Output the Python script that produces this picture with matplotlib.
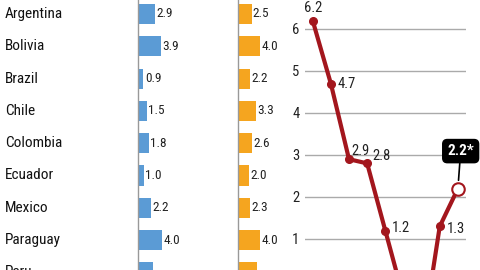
import matplotlib.pyplot as plt
from matplotlib.transforms import blended_transform_factory
import numpy as np

# data
countries = ["Argentina", "Bolivia", "Brazil", "Chile", "Colombia",
             "Ecuador", "Mexico", "Paraguay", "Peru"]
blue_vals = [2.9, 3.9, 0.9, 1.5, 1.8, 1.0, 2.2, 4.0, 2.5]
orange_vals = [2.5, 4.0, 2.2, 3.3, 2.6, 2.0, 2.3, 4.0, 3.5]

years = [2010, 2011, 2012, 2013, 2014, 2015, 2016, 2017, 2018]
growth = [6.2, 4.7, 2.9, 2.8, 1.2, -0.4, -1.5, 1.3, 2.2]

W, H = 480, 270
plt.rcParams["font.family"] = ["Liberation Sans Narrow", "Roboto Condensed",
                               "Open Sans Condensed", "DejaVu Sans"]
plt.rcParams["font.stretch"] = "condensed"

fig = plt.figure(figsize=(4.8, 2.7), dpi=100)
fig.patch.set_facecolor("white")


def px_axes(x0, y0, x1, y1):
    # axes from pixel box (top-left origin)
    return fig.add_axes([x0 / W, (H - y1) / H, (x1 - x0) / W, (y1 - y0) / H])


row0, step = 14.0, 32.3
ylims = ((H - row0) / step, -row0 / step)
pos = np.arange(len(countries))

# blue bars
ax1 = px_axes(138, 0, 228, H)
ax1.barh(pos, blue_vals, height=0.62, color="#5b9bd5")
ax1.set_xlim(0, 90 / 6.0)
ax1.set_ylim(*ylims)
for i, v in enumerate(blue_vals):
    ax1.annotate(f"{v:.1f}", (v, i), xytext=(1, 0), textcoords="offset points",
                 ha="left", va="center", fontsize=9.5, color="#222222")

# country names
tr = blended_transform_factory(fig.transFigure, ax1.transData)
for i, c in enumerate(countries):
    ax1.text(5 / W, i, c, transform=tr, ha="left", va="center",
             fontsize=11, color="#111111")

# orange bars
ax2 = px_axes(237.5, 0, 294, H)
ax2.barh(pos, orange_vals, height=0.62, color="#f5a51f")
ax2.set_xlim(0, 56.5 / 5.6)
ax2.set_ylim(*ylims)
for i, v in enumerate(orange_vals):
    ax2.annotate(f"{v:.1f}", (v, i), xytext=(1, 0), textcoords="offset points",
                 ha="left", va="center", fontsize=9.5, color="#222222")

for ax in (ax1, ax2):
    for s in ["top", "right", "bottom"]:
        ax.spines[s].set_visible(False)
    ax.spines["left"].set_color("#999999")
    ax.spines["left"].set_linewidth(1)
    ax.set_xticks([])
    ax.set_yticks([])
    ax.patch.set_alpha(0)

# line chart (bottom part is cut off in the reference)
ax3 = px_axes(305, 0, 466, 360)
x = np.arange(len(years))
red = "#a3161d"
ax3.plot(x[:-1], growth[:-1], color=red, lw=3, marker="o", ms=5.5, zorder=3)
ax3.plot(x[-2:], growth[-2:], color=red, lw=3, zorder=3)
ax3.plot(x[-1], growth[-1], marker="o", ms=9, mfc="white", mec=red, mew=1.5,
         zorder=4)
ax3.set_xlim((305 - 312.7) / 18.15, (466 - 312.7) / 18.15)
ax3.set_ylim((281 - 360) / 42, 281 / 42)
ax3.set_yticks(range(0, 7))
ax3.set_yticklabels([str(t) for t in range(0, 7)], fontsize=10.5, color="#222222")
ax3.tick_params(axis="y", length=0, pad=4)
ax3.set_xticks([])
ax3.grid(axis="y", color="#aaaaaa", lw=1)
ax3.set_axisbelow(True)
for s in ax3.spines.values():
    s.set_visible(False)
ax3.patch.set_alpha(0)

offsets = {0: (0, 9, "center"), 1: (5, 0, "left"), 2: (2, 6, "left"),
           3: (4, 5, "left"), 4: (5, 2, "left"), 7: (5, -2, "left")}
for i, (dx, dy, ha) in offsets.items():
    ax3.annotate(f"{growth[i]:.1f}", (x[i], growth[i]), xytext=(dx, dy),
                 textcoords="offset points", ha=ha, va="center",
                 fontsize=10.5, color="#222222")

ax3.annotate(f"{growth[-1]:.1f}*", (x[-1], growth[-1]), xytext=(2, 27),
             textcoords="offset points", ha="center", va="center",
             fontsize=11, fontweight="bold", color="white",
             bbox=dict(boxstyle="round,pad=0.3", fc="black", ec="black"),
             arrowprops=dict(arrowstyle="-", color="black", lw=1.2,
                             shrinkA=0, shrinkB=6))

fig.savefig("out.png", dpi=100)
